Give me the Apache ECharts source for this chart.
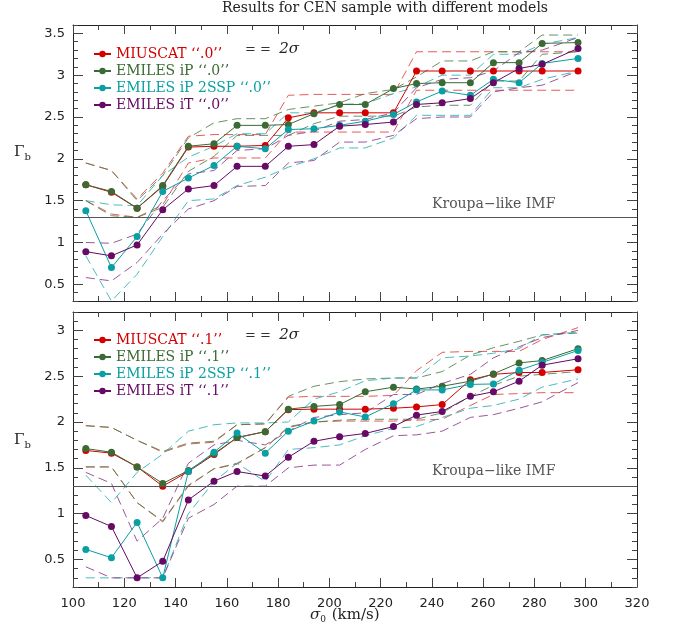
<!DOCTYPE html>
<html><head><meta charset="utf-8">
<script src="https://cdn.jsdelivr.net/npm/echarts@6/dist/echarts.min.js"></script>
<style>html,body{margin:0;padding:0;background:#fff}#c{width:681px;height:642px}</style>
</head><body><div id="c"></div>
<script>
// ---------- data ----------
const sigma = [105,115,125,135,145,155,164,175,184,194,204,214,225,234,244,255,264,274,283,297];
const xTickLabels = [100,120,140,160,180,200,220,240,260,280,300,320];
const yTicksTop = [0.5,1,1.5,2,2.5,3,3.5];
const yTicksBot = [0.5,1,1.5,2,2.5,3];
const kroupa = 1.3;

const names0 = ['MIUSCAT ‘‘.0’’','EMILES iP ‘‘.0’’','EMILES iP 2SSP ‘‘.0’’','EMILES iT ‘‘.0’’'];
const names1 = ['MIUSCAT ‘‘.1’’','EMILES iP ‘‘.1’’','EMILES iP 2SSP ‘‘.1’’','EMILES iT ‘‘.1’’'];

// top panel ".0"
const miuscat0   = [1.69,1.60,1.41,1.67,2.14,2.15,2.15,2.16,2.49,2.55,2.55,2.55,2.55,3.05,3.05,3.05,3.05,3.05,3.05,3.05];
const ip0        = [1.69,1.61,1.41,1.68,2.15,2.18,2.40,2.40,2.41,2.54,2.65,2.65,2.84,2.90,2.91,2.91,3.15,3.15,3.38,3.39];
const ip2ssp0    = [1.38,0.70,1.07,1.61,1.77,1.92,2.15,2.12,2.35,2.36,2.40,2.45,2.53,2.68,2.81,2.76,2.95,2.91,3.14,3.20];
const it0        = [0.89,0.84,0.97,1.39,1.64,1.68,1.91,1.91,2.15,2.17,2.39,2.41,2.44,2.65,2.67,2.72,2.91,3.08,3.13,3.32];
const miuscat0Hi = [1.95,1.86,1.52,1.83,2.27,2.29,2.29,2.29,2.76,2.77,2.77,2.77,2.77,3.28,3.28,3.28,3.28,3.28,3.28,3.28];
const miuscat0Lo = [1.50,1.34,1.30,1.45,1.95,2.01,2.01,2.01,2.32,2.32,2.32,2.32,2.32,2.82,2.82,2.82,2.82,2.82,2.82,2.82];
const ip0Hi      = [1.95,1.86,1.50,1.80,2.25,2.43,2.48,2.48,2.59,2.63,2.67,2.78,2.83,2.98,3.17,3.17,3.28,3.28,3.48,3.48];
const ip0Lo      = [1.50,1.32,1.30,1.42,1.85,2.03,2.28,2.28,2.28,2.42,2.51,2.51,2.51,2.62,2.64,2.64,2.93,2.93,3.25,3.28];
const ip2ssp0Hi  = [1.50,1.45,1.44,1.80,2.02,2.15,2.30,2.30,2.55,2.55,2.65,2.66,2.78,2.86,3.00,3.00,3.25,3.25,3.37,3.45];
const ip2ssp0Lo  = [0.84,0.30,0.62,1.07,1.50,1.52,1.68,1.78,1.90,2.00,2.13,2.13,2.25,2.52,2.52,2.52,2.85,2.85,2.95,3.05];
const it0Hi      = [1.00,0.99,1.10,1.50,1.82,1.86,2.10,2.12,2.28,2.33,2.45,2.47,2.55,2.85,2.95,2.97,3.05,3.27,3.30,3.45];
const it0Lo      = [0.58,0.54,0.76,1.10,1.40,1.50,1.67,1.68,1.95,1.98,2.20,2.20,2.28,2.48,2.50,2.50,2.80,2.85,2.88,3.05];

// bottom panel ".1"
const miuscat1   = [1.69,1.66,1.51,1.30,1.46,1.645,1.83,1.895,2.135,2.14,2.14,2.14,2.15,2.165,2.19,2.46,2.52,2.54,2.54,2.57];
const ip1        = [1.71,1.67,1.51,1.33,1.47,1.655,1.83,1.895,2.14,2.17,2.19,2.33,2.38,2.36,2.39,2.445,2.525,2.645,2.67,2.80];
const ip2ssp1    = [0.61,0.52,0.905,0.30,1.46,1.67,1.88,1.66,1.90,2.01,2.11,2.055,2.20,2.35,2.35,2.41,2.415,2.565,2.65,2.78];
const it1        = [0.98,0.86,0.30,0.48,1.15,1.355,1.46,1.41,1.615,1.79,1.84,1.875,1.95,2.075,2.115,2.28,2.33,2.445,2.62,2.69];
const miuscat1Hi = [1.96,1.94,1.80,1.67,1.76,1.78,1.97,1.98,2.27,2.28,2.28,2.28,2.29,2.56,2.76,2.77,2.77,2.77,2.90,3.03];
const miuscat1Lo = [1.51,1.51,1.12,0.91,1.30,1.49,1.54,1.72,1.94,2.00,2.01,2.01,2.01,2.02,2.03,2.18,2.30,2.31,2.32,2.32];
const ip1Hi      = [1.96,1.94,1.80,1.68,1.77,1.79,1.97,1.98,2.28,2.39,2.44,2.47,2.48,2.48,2.55,2.73,2.81,2.88,2.95,2.97];
const ip1Lo      = [1.51,1.51,1.12,0.92,1.31,1.49,1.55,1.72,1.95,2.00,2.02,2.03,2.03,2.03,2.10,2.28,2.40,2.50,2.52,2.55];
const ip2ssp1Hi  = [1.42,1.12,1.45,1.65,1.90,1.97,1.99,1.99,2.00,2.25,2.33,2.45,2.48,2.48,2.70,2.72,2.75,2.80,2.95,2.98];
const ip2ssp1Lo  = [0.30,0.30,0.30,0.30,1.00,1.35,1.55,1.35,1.70,1.72,1.75,1.85,1.93,1.95,2.05,2.15,2.18,2.25,2.38,2.47];
const it1Hi      = [1.45,1.33,0.70,0.95,1.55,1.75,1.80,1.75,1.90,2.05,2.08,2.10,2.30,2.30,2.42,2.52,2.70,2.82,2.92,3.00];
const it1Lo      = [0.42,0.30,0.30,0.30,0.95,1.10,1.30,1.30,1.50,1.53,1.53,1.70,1.85,1.86,1.90,2.05,2.08,2.15,2.22,2.43];

// ---------- styling ----------
const colors = ['#d40000','#3a6b35','#0a9fa3','#660a66'];
const dashColors = ['#e0403a','#4e7f4a','#2ab0b2','#8a3a8a'];
const SERIF = '"DejaVu Serif", serif';
const SANS = '"DejaVu Sans", sans-serif';
const AX = '#222';

const pts = ys => sigma.map((x, i) => [x, ys[i]]);

function solid(name, ys, k, xi, yi) {
  return { type: 'line', name, data: pts(ys), xAxisIndex: xi, yAxisIndex: yi,
    symbol: 'circle', symbolSize: 7, z: 4,
    lineStyle: { color: colors[k], width: 1 }, itemStyle: { color: colors[k] } };
}
function dashed(ys, k, xi, yi) {
  return { type: 'line', data: pts(ys), xAxisIndex: xi, yAxisIndex: yi,
    symbol: 'none', silent: true, z: 3,
    lineStyle: { color: dashColors[k], width: 1, type: [9, 5], opacity: 0.85 } };
}

const grids = [
  { left: 73, right: 44, top: 25, height: 276 },
  { left: 73, right: 44, top: 312, height: 275 }
];

function xAx(g, pos, labels) {
  return { type: 'value', gridIndex: g, position: pos, min: 100, max: 320, interval: 20,
    axisLine: { show: true, onZero: false, lineStyle: { color: AX, width: 1 } },
    splitLine: { show: false },
    axisTick: { show: true, inside: true, length: 9, lineStyle: { color: '#444' } },
    minorTick: { show: true, splitNumber: 2, length: 5, lineStyle: { color: '#444' } },
    axisLabel: { show: labels, margin: 10, fontFamily: SANS, fontSize: 13, color: AX,
      customValues: xTickLabels } };
}
function yAxMajor(g, pos, mn, mx, ticks, labels) {
  return { type: 'value', gridIndex: g, position: pos, min: mn, max: mx,
    axisLine: { show: true, onZero: false, lineStyle: { color: AX, width: 1 } },
    splitLine: { show: false },
    axisTick: { show: true, inside: true, length: 10, customValues: ticks, lineStyle: { color: '#444' } },
    axisLabel: { show: labels, customValues: ticks, margin: 8, fontFamily: SANS, fontSize: 13, color: AX,
      formatter: v => String(Math.round(v * 10) / 10) } };
}
function yAxMinor(g, pos, mn, mx) {
  return { type: 'value', gridIndex: g, position: pos, min: mn, max: mx, interval: 0.1,
    axisLine: { show: false }, splitLine: { show: false },
    axisTick: { show: true, inside: true, length: 5, lineStyle: { color: '#444' } },
    axisLabel: { show: false } };
}

const xAxis = [ xAx(0, 'bottom', false), xAx(0, 'top', false), xAx(1, 'bottom', true), xAx(1, 'top', false) ];
const yAxis = [
  yAxMajor(0, 'left', 0.3, 3.6, yTicksTop, true), yAxMinor(0, 'left', 0.3, 3.6),
  yAxMajor(0, 'right', 0.3, 3.6, yTicksTop, false), yAxMinor(0, 'right', 0.3, 3.6),
  yAxMajor(1, 'left', 0.2, 3.2, yTicksBot, true), yAxMinor(1, 'left', 0.2, 3.2),
  yAxMajor(1, 'right', 0.2, 3.2, yTicksBot, false), yAxMinor(1, 'right', 0.2, 3.2)
];

const kroupaLine = {
  silent: true, symbol: 'none', label: { show: false },
  lineStyle: { color: '#555', width: 1, type: 'solid' },
  data: [{ yAxis: kroupa }]
};

const top0 = [miuscat0, ip0, ip2ssp0, it0];
const top0Hi = [miuscat0Hi, ip0Hi, ip2ssp0Hi, it0Hi];
const top0Lo = [miuscat0Lo, ip0Lo, ip2ssp0Lo, it0Lo];
const bot1 = [miuscat1, ip1, ip2ssp1, it1];
const bot1Hi = [miuscat1Hi, ip1Hi, ip2ssp1Hi, it1Hi];
const bot1Lo = [miuscat1Lo, ip1Lo, ip2ssp1Lo, it1Lo];

const series = [];
for (let k = 0; k < 4; k++) {
  series.push(dashed(top0Hi[k], k, 0, 0));
  series.push(dashed(top0Lo[k], k, 0, 0));
  series.push(dashed(bot1Hi[k], k, 2, 4));
  series.push(dashed(bot1Lo[k], k, 2, 4));
}
for (let k = 0; k < 4; k++) {
  series.push(solid(names0[k], top0[k], k, 0, 0));
  series.push(solid(names1[k], bot1[k], k, 2, 4));
}
series[series.length - 8].markLine = kroupaLine;
series[series.length - 7].markLine = kroupaLine;

function legend(names, top) {
  return { orient: 'vertical', left: 88, top, itemGap: 3, itemWidth: 17, itemHeight: 8,
    selectedMode: false,
    textStyle: { fontFamily: SERIF, fontSize: 14 },
    data: names.map((n, k) => ({ name: n, textStyle: { color: colors[k] } })) };
}

function sigmaText(y) {
  return { type: 'text', left: 245, top: y, style: {
    text: '{a|= =  }{b|2σ}', rich: { a: { fontFamily: SANS, fontSize: 13, fill: '#333' },
      b: { fontFamily: SERIF, fontStyle: 'italic', fontSize: 15, fill: '#222' } } } };
}
function gammaText(y) {
  return { type: 'text', left: 14, top: y, style: {
    text: '{a|Γ}{b|b}', rich: { a: { fontFamily: SERIF, fontSize: 15, fill: '#222' },
      b: { fontFamily: SERIF, fontSize: 10, fill: '#222', padding: [10, 0, 0, 0] } } } };
}
function kroupaText(y) {
  return { type: 'text', left: 432, top: y, style: { text: 'Kroupa\u2212like IMF',
    fontFamily: SERIF, fontSize: 14, fill: '#555' } };
}

const chart = echarts.init(document.getElementById('c'), null, { renderer: 'canvas' });
chart.setOption({
  animation: false,
  backgroundColor: '#fff',
  grid: grids,
  xAxis, yAxis,
  legend: [legend(names0, 42), legend(names1, 328)],
  series,
  graphic: [
    { type: 'text', left: 222, top: 1, style: { text: 'Results for CEN sample with different models',
      fontFamily: SERIF, fontSize: 14, fill: '#222' } },
    { type: 'text', left: 310, top: 608, style: {
      text: '{s|σ}{z|0}{t| (km/s)}', rich: {
        s: { fontFamily: SERIF, fontStyle: 'italic', fontSize: 15, fill: '#222' },
        z: { fontFamily: SERIF, fontSize: 9, fill: '#222', padding: [8, 1, 0, 0] },
        t: { fontFamily: SERIF, fontSize: 15, fill: '#222' } } } },
    gammaText(145), gammaText(433),
    sigmaText(42), sigmaText(328),
    kroupaText(197), kroupaText(464)
  ]
});
</script>
</body></html>
